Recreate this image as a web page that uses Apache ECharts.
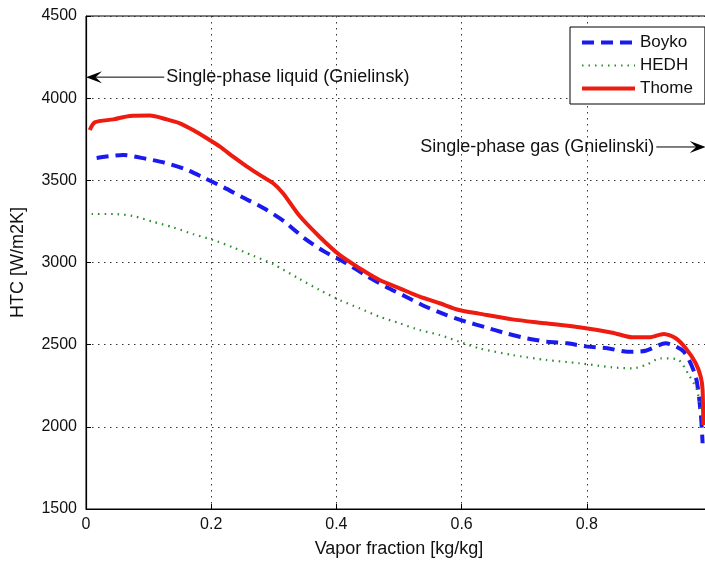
<!DOCTYPE html>
<html><head><meta charset="utf-8">
<script src="https://cdn.jsdelivr.net/npm/echarts@6/dist/echarts.min.js"></script>
<style>html,body{margin:0;padding:0;background:#fff;overflow:hidden;}#c{width:705px;height:563px;}</style>
</head><body><div id="c"></div>
<script>
// Data (vapor fraction, HTC)
const boykoX = [0.017,0.059,0.097,0.126,0.158,0.188,0.22,0.25,0.284,0.317,0.349,0.381,0.416,0.446,0.479,0.511,0.543,0.575,0.607,0.639,0.671,0.705,0.737,0.769,0.801,0.833,0.865,0.894,0.926,0.955,0.974,0.982,0.985];
const boykoY = [3636,3654,3630,3607,3569,3516,3457,3397,3330,3249,3147,3066,2995,2924,2853,2792,2731,2681,2640,2605,2569,2538,2518,2508,2488,2478,2457,2463,2508,2457,2305,2082,1900];
const hedhX = [0.009,0.044,0.075,0.107,0.139,0.171,0.203,0.235,0.267,0.299,0.341,0.373,0.405,0.437,0.469,0.501,0.533,0.565,0.596,0.628,0.681,0.735,0.788,0.841,0.873,0.894,0.918,0.945,0.963,0.976,0.982];
const hedhY = [3295,3295,3283,3248,3214,3173,3137,3092,3041,2990,2900,2833,2772,2721,2670,2630,2589,2559,2518,2478,2437,2407,2387,2362,2356,2376,2417,2411,2316,2224,2100];
const thomeX = [0.006,0.014,0.044,0.07,0.102,0.129,0.15,0.171,0.193,0.214,0.235,0.256,0.278,0.299,0.315,0.341,0.373,0.405,0.437,0.469,0.501,0.533,0.565,0.596,0.628,0.681,0.735,0.788,0.841,0.873,0.9,0.923,0.942,0.958,0.974,0.982,0.985,0.986];
const thomeY = [3806,3853,3871,3892,3894,3871,3847,3806,3756,3705,3644,3587,3532,3482,3420,3284,3157,3046,2965,2893,2843,2792,2752,2711,2689,2654,2630,2606,2573,2545,2545,2565,2539,2478,2387,2305,2224,2011];
const seriesNames = ['Boyko','HEDH','Thome'];
const xTicks = [0,0.2,0.4,0.6,0.8,1];
const yTicks = [1500,2000,2500,3000,3500,4000,4500];
const annLiquid = {text:'Single-phase liquid (Gnielinsk)', from:[0.125,4128], to:[0,4128]};
const annGas = {text:'Single-phase gas (Gnielinski)', from:[0.911,3703], to:[0.99,3703]};

const zip = (xs, ys) => xs.map((x,i)=>[x, ys[i]]);
const font = 'Liberation Sans, Arial, sans-serif';
const colors = ['#1a1aee','#2e8b2e','#ee1c10'];
const widths = [4, 2.2, 4];
const dashes = [[12,7],[1.5,5],'solid'];
const chart = echarts.init(document.getElementById('c'));
chart.setOption({
  animation:false,
  backgroundColor:'#fff',
  grid:{left:86, top:16, height:493, width:626, show:true, borderColor:'#000', borderWidth:1,
    containLabel:false, outerBoundsMode:'none'},
  xAxis:{type:'value', min:xTicks[0], max:xTicks[xTicks.length-1], interval:0.2,
    name:'Vapor fraction [kg/kg]', nameLocation:'middle', nameGap:31,
    nameTextStyle:{fontFamily:font, fontSize:18, color:'#111'},
    axisLine:{lineStyle:{color:'#000', width:1.2}},
    axisTick:{inside:true, length:5, lineStyle:{color:'#000'}},
    axisLabel:{fontFamily:font, fontSize:16, color:'#111', margin:8, formatter:v=>String(v)},
    splitLine:{show:true, lineStyle:{color:'#333', type:[1.5,4.5], width:1}}},
  yAxis:{type:'value', min:yTicks[0], max:yTicks[yTicks.length-1], interval:500,
    name:'HTC [W/m2K]', nameLocation:'middle', nameGap:59, nameRotate:90,
    nameTextStyle:{fontFamily:font, fontSize:18, color:'#111'},
    axisLine:{lineStyle:{color:'#000', width:1.2}},
    axisTick:{inside:true, length:5, lineStyle:{color:'#000'}},
    axisLabel:{fontFamily:font, fontSize:16, color:'#111', margin:9, formatter:v=>String(v)},
    splitLine:{show:true, lineStyle:{color:'#333', type:[1.5,4.5], width:1}}},
  legend:{orient:'vertical', left:570, top:27,
    data:seriesNames.map((n,i)=>({name:n, lineStyle:{width:widths[i], type:dashes[i], color:colors[i]}})),
    backgroundColor:'#fff', borderColor:'#000', borderWidth:1, borderRadius:0, padding:[7,12,7,10],
    itemWidth:53, itemHeight:14, itemGap:6, itemTextGap:7,
    itemStyle:{opacity:0},
    textStyle:{fontFamily:font, fontSize:17, color:'#111'}},
  series:seriesNames.map((n,i)=>({
    name:n, type:'line', data:zip([boykoX,hedhX,thomeX][i],[boykoY,hedhY,thomeY][i]),
    showSymbol:false, symbol:'none', smooth:0.25, color:colors[i],
    lineStyle:{color:colors[i], width:widths[i], type:dashes[i]}}))
});
function annot(a, textLeft){
  const p0 = chart.convertToPixel({gridIndex:0}, a.from);
  const p1 = chart.convertToPixel({gridIndex:0}, a.to);
  const dir = p1[0] > p0[0] ? 1 : -1;
  const ah = 16, aw = 6;
  return [
    {type:'line', z:100, shape:{x1:p0[0], y1:p0[1], x2:p1[0]-dir*ah*0.6, y2:p1[1]}, style:{stroke:'#000', lineWidth:1}},
    {type:'polygon', z:100, shape:{points:[[p1[0],p1[1]],[p1[0]-dir*ah,p1[1]-aw],[p1[0]-dir*ah*0.6,p1[1]],[p1[0]-dir*ah,p1[1]+aw]]}, style:{fill:'#000'}},
    {type:'text', z:100, style:{text:a.text, x: textLeft ? p0[0]-2 : p0[0]+2, y:p0[1], align: textLeft ? 'right':'left', verticalAlign:'middle',
      font:'18px ' + font, fill:'#111'}}
  ];
}
chart.setOption({graphic:[].concat(annot(annLiquid,false), annot(annGas,true))});
</script></body></html>
